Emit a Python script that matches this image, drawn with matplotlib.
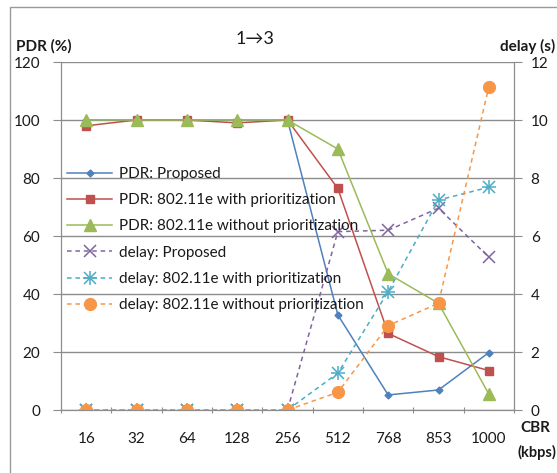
import numpy as np
import matplotlib
matplotlib.use("Agg")
import matplotlib.pyplot as plt
from matplotlib.patches import Rectangle
from matplotlib.lines import Line2D

plt.rcParams['font.family'] = ['Lato', 'DejaVu Sans']

cbr = ["16", "32", "64", "128", "256", "512", "768", "853", "1000"]

pdr_proposed = [100, 100, 100, 100, 100, 32.8, 5.2, 6.9, 19.8]
pdr_with_prio = [98, 100, 100, 99, 100, 76.4, 26.4, 18.4, 13.6]
pdr_without_prio = [100, 100, 100, 100, 100, 90, 47, 36.8, 5.5]

delay_proposed = [0, 0, 0, 0, 0, 6.15, 6.2, 6.96, 5.27]
delay_with_prio = [0, 0, 0, 0, 0, 1.27, 4.08, 7.24, 7.68]
delay_without_prio = [0, 0, 0, 0, 0, 0.61, 2.91, 3.68, 11.15]

blue = "#4F81BD"
red = "#C0504D"
green = "#9BBB59"
purple = "#8064A2"
aqua = "#4BACC6"
orange = "#F79646"
grid_c = "#8C8C8C"
txt_c = "#1a1a1a"

fig = plt.figure(figsize=(5.57, 4.73), dpi=100)
fig.patches.append(Rectangle((10 / 557, -0.1), 1.2, 1 - 7 / 473 + 0.1,
                             transform=fig.transFigure, fill=False,
                             edgecolor="#9a9a9a", lw=1))

ax = fig.add_axes([61 / 557, 1 - 410 / 473, 453 / 557, 348 / 473])
ax2 = ax.twinx()

x = np.arange(len(cbr))
fs = 11

ax.plot(x, pdr_proposed, color=blue, marker="D", ms=3.5, lw=1.1, label="PDR: Proposed")
ax.plot(x, pdr_with_prio, color=red, marker="s", ms=5.5, lw=1.1, label="PDR: 802.11e with prioritization")
ax.plot(x, pdr_without_prio, color=green, marker="^", ms=9, lw=1.1, label="PDR: 802.11e without prioritization")

dash = (3, 2.5)
ax2.plot(x, delay_proposed, color=purple, marker="x", ms=8, mew=1.1, lw=1.1,
         dashes=dash, label="delay: Proposed")
ax2.plot(x, delay_with_prio, color=aqua, marker="x", ms=8, mew=1.1, lw=1.1,
         dashes=dash, label="delay: 802.11e with prioritization")
ax2.plot(x, delay_with_prio, color=aqua, marker="+", ms=10, mew=1.1, linestyle="none")
ax2.plot(x, delay_without_prio, color=orange, marker="o", ms=8.5, lw=1.1,
         dashes=dash, label="delay: 802.11e without prioritization")

ax.set_xlim(-0.5, len(cbr) - 0.5)
ax.set_ylim(0, 120)
ax2.set_ylim(0, 12)
ax.set_yticks(np.arange(0, 121, 20))
ax2.set_yticks(np.arange(0, 13, 2))

ax.set_xticks(np.arange(-0.5, len(cbr), 1))
ax.set_xticklabels([])
ax.set_xticks(x, minor=True)
ax.set_xticklabels(cbr, minor=True)
ax.tick_params(axis="x", which="major", length=5, direction="inout", color=grid_c)
ax.tick_params(axis="x", which="minor", length=0, pad=16, labelsize=fs, labelcolor=txt_c)
ax.tick_params(axis="y", length=6, color=grid_c, labelsize=fs, labelcolor=txt_c, pad=9)
ax2.tick_params(axis="y", length=6, color=grid_c, labelsize=fs, labelcolor=txt_c, pad=6)

ax.grid(axis="y", color=grid_c, lw=1)
ax.set_axisbelow(True)
for a in (ax, ax2):
    a.spines["top"].set_visible(False)
    for s in ("left", "right", "bottom"):
        a.spines[s].set_color(grid_c)
    a.patch.set_visible(False)

h1, l1 = ax.get_legend_handles_labels()
h2, l2 = ax2.get_legend_handles_labels()
h2[1] = (h2[1], Line2D([], [], color=aqua, marker="+", ms=10, mew=1.1, linestyle="none"))
leg = ax2.legend(h1 + h2, l1 + l2, loc="upper left",
                 bbox_to_anchor=(6 / 453, (410 - 167) / 348), frameon=False,
                 fontsize=fs, handlelength=2.95, handletextpad=0.45,
                 labelspacing=0.8, borderpad=0, borderaxespad=0)
for t in leg.get_texts():
    t.set_color(txt_c)

fig.text(255 / 557, 1 - 39 / 473, "1→3", ha="center", va="center", fontsize=13, color=txt_c)
fig.text(16 / 557, 1 - 46 / 473, "PDR (%)", ha="left", va="center", fontsize=fs,
         fontweight="bold", color=txt_c)
fig.text(500 / 557, 1 - 46 / 473, "delay (s)", ha="left", va="center", fontsize=fs,
         fontweight="bold", color=txt_c)
fig.text(520 / 557, 1 - 428 / 473, "CBR", ha="left", va="center", fontsize=fs,
         fontweight="bold", color=txt_c)
fig.text(517 / 557, 1 - 452 / 473, "(kbps)", ha="left", va="center", fontsize=fs - 0.5,
         fontweight="bold", color=txt_c)

fig.savefig("out.png", dpi=100)
